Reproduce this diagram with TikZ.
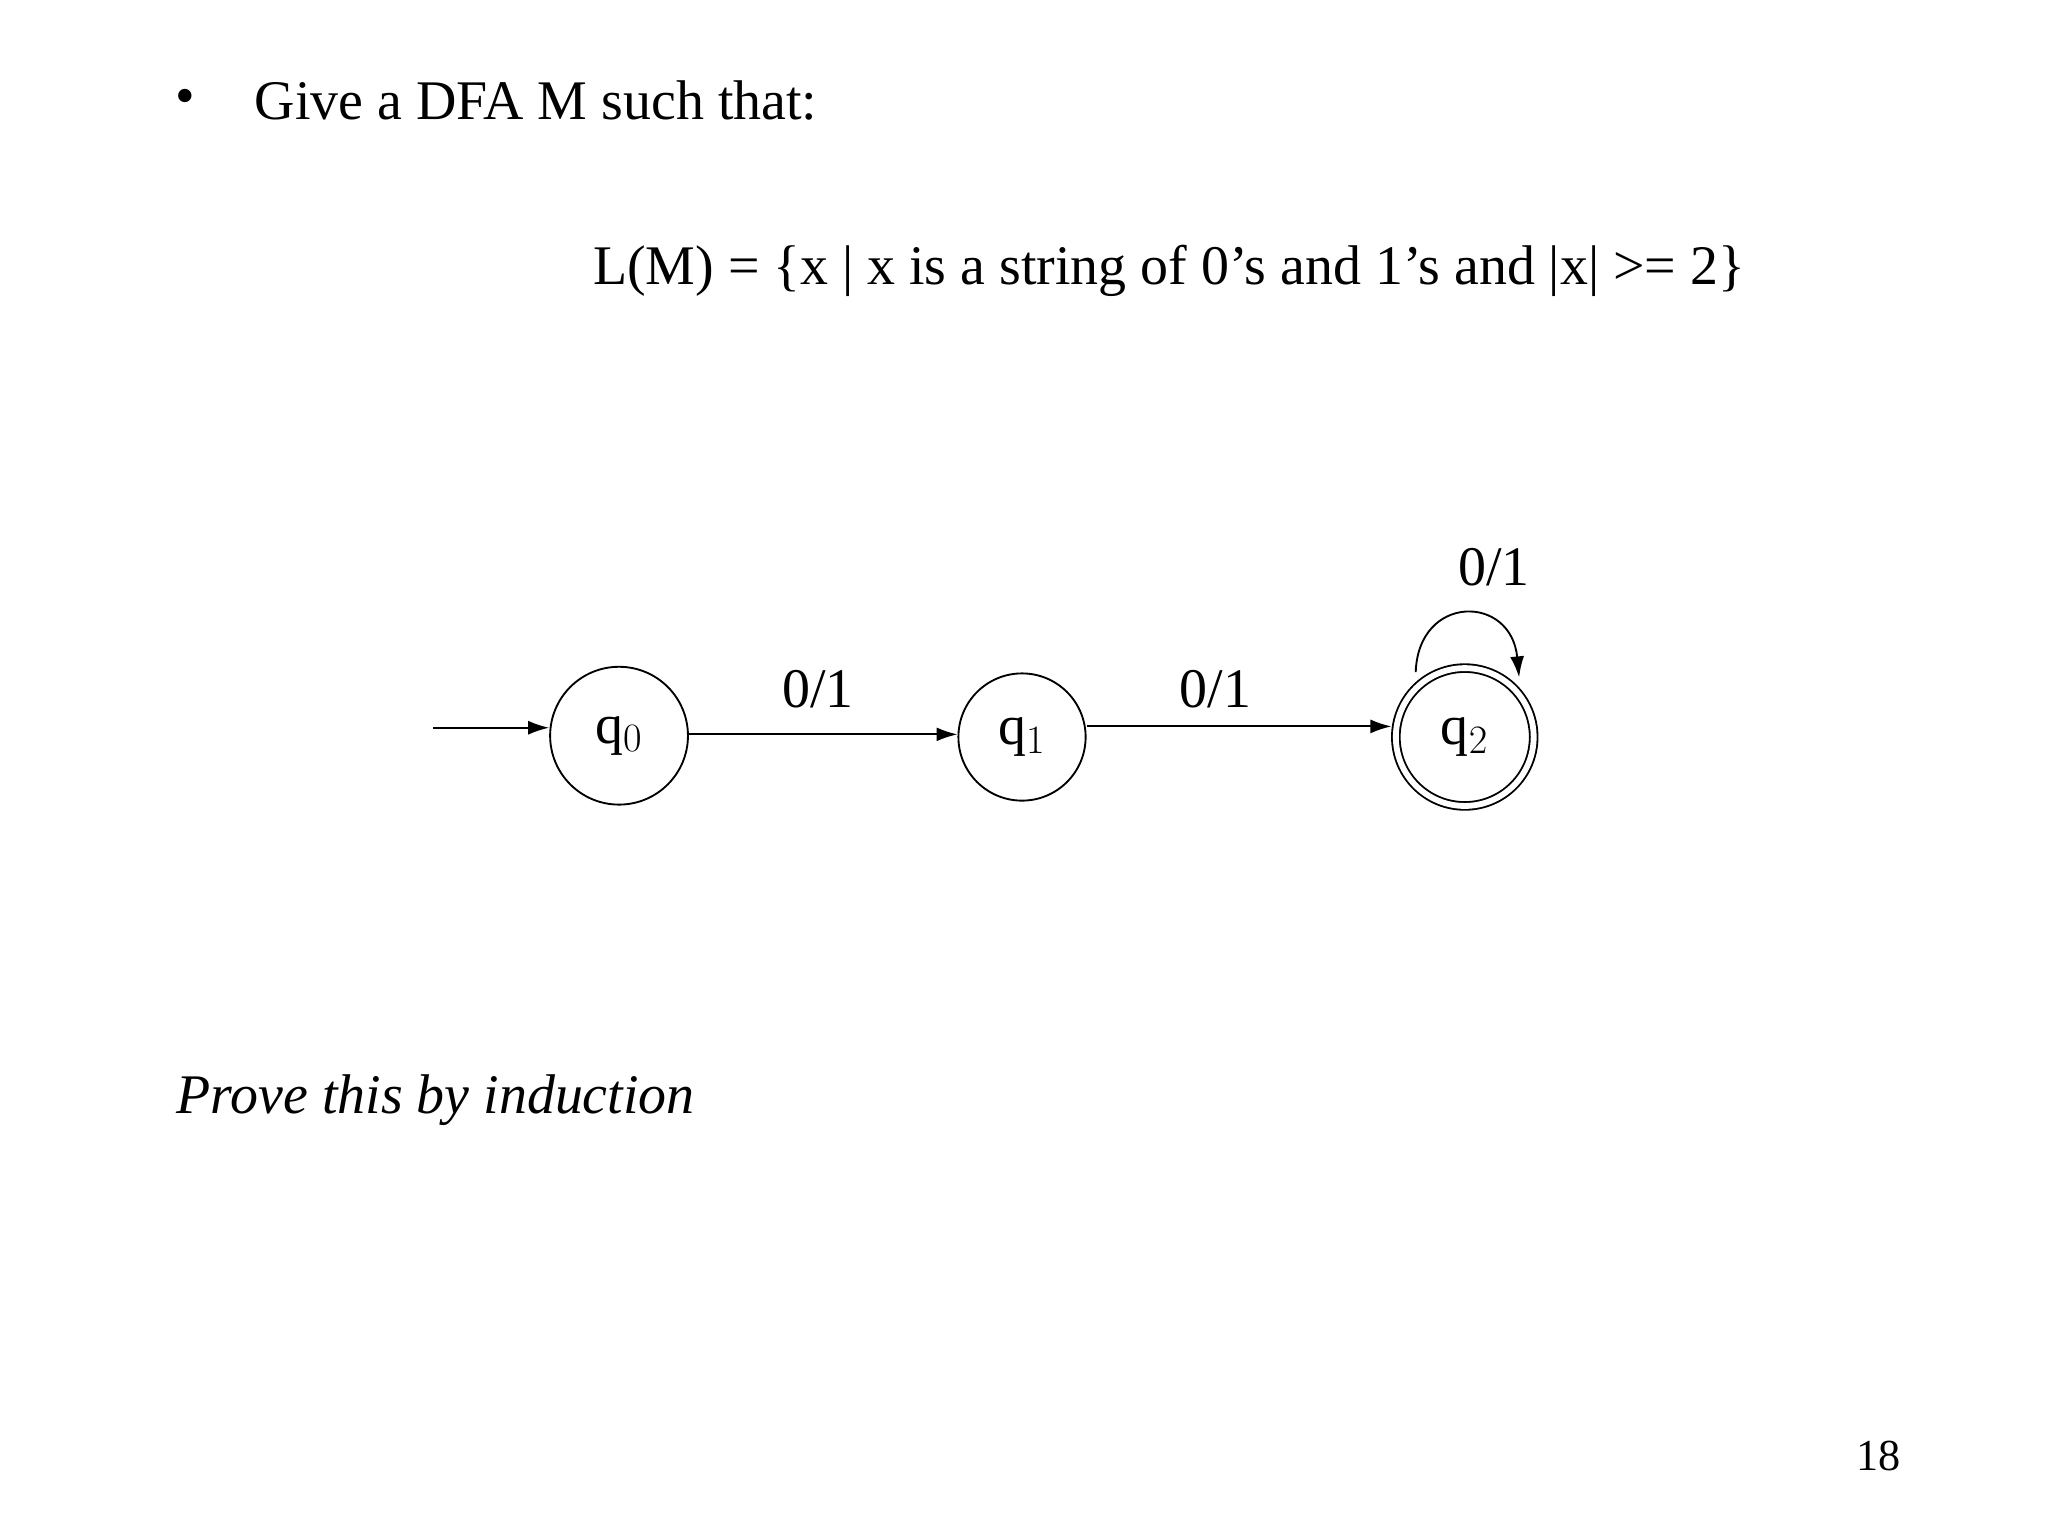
\documentclass[tikz,border=0pt]{standalone}
\usepackage{fontspec}
\setmainfont{Liberation Serif}
\usetikzlibrary{arrows.meta}
\begin{document}
\begin{tikzpicture}[x=0.02cm,y=-0.02cm,
  txt/.style={font=\fontsize{24}{28}\selectfont,inner sep=0pt},
  st/.style={draw,circle,line width=0.8pt,font=\fontsize{24}{28}\selectfont,inner sep=0pt},
  arr/.style={-{Latex[length=9pt,width=6pt]},line width=0.8pt}]
\useasboundingbox (0,0) rectangle (1545,1159);
\node[txt,anchor=west] (b) at (132,77) {•};
\node[txt,anchor=base west] (g) at (192,90) {Give a DFA M such that:};
\node[txt,anchor=base west] (l) at (447,215) {L(M) = \{x | x is a string of 0’s and 1’s and |x| >= 2\}};
\node[st,minimum size=104\pgflinewidth*0+2.08cm] (q0) at (467,555) {q$_0$};
\node[st,minimum size=1.92cm] (q1) at (771,556) {q$_1$};
\node[st,minimum size=2.08cm,double,double distance=2.5pt] (q2) at (1105,556) {q$_2$};
\coordinate (s) at (327,549);
\draw[arr] (s) -- (q0.west|-s);
\draw[arr] (q0.east|-0,554) -- (q1.west|-0,554);
\draw[arr] (q1.east|-0,548) -- ([xshift=-1.5pt]q2.west|-0,548);
\draw[arr] (1068,507) .. controls (1070,448) and (1140,448) .. (1146,511);
\node[txt] (a1) at (617,520) {0/1};
\node[txt] (a2) at (917,520) {0/1};
\node[txt] (a3) at (1127,428) {0/1};
\node[txt,anchor=base west,font=\fontsize{24}{28}\selectfont\itshape] (p) at (133,840) {Prove this by induction};
\node[inner sep=0pt,anchor=base east,font=\fontsize{19}{22}\selectfont] (n) at (1434,1109) {18};
\end{tikzpicture}
\end{document}
